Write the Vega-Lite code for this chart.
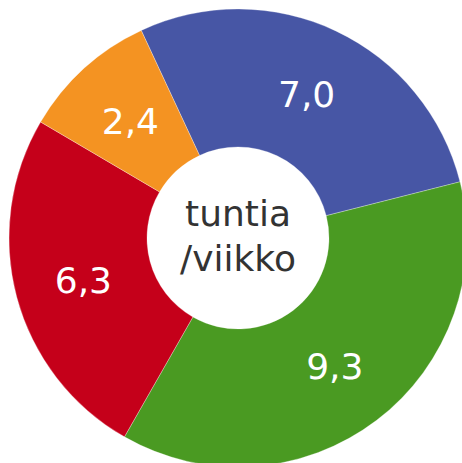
{
  "$schema": "https://vega.github.io/schema/vega-lite/v6.json",
  "autosize": {"type": "none"},
  "width": 448,
  "height": 450,
  "padding": {"left": 14, "top": 13, "right": 0, "bottom": 0},
  "background": "white",
  "config": {"view": {"stroke": null}},
  "layer": [
    {
      "data": {"values": [
        {"category": "sininen", "value": 7.0, "label": "7,0", "order": 1},
        {"category": "vihreä", "value": 9.3, "label": "9,3", "order": 2},
        {"category": "punainen", "value": 6.3, "label": "6,3", "order": 3},
        {"category": "oranssi", "value": 2.4, "label": "2,4", "order": 4}
      ]},
      "encoding": {
        "theta": {"field": "value", "type": "quantitative", "stack": true, "scale": {"range": [-0.4363, 5.8469]}},
        "order": {"field": "order", "type": "quantitative"},
        "color": {"field": "category", "type": "nominal", "legend": null,
          "scale": {"domain": ["sininen", "vihreä", "punainen", "oranssi"], "range": ["#4756a5", "#4a9a22", "#c5001a", "#f49322"]}}
      },
      "layer": [
        {"mark": {"type": "arc", "innerRadius": 91, "outerRadius": 229, "stroke": "white", "strokeWidth": 0.3}},
        {"mark": {"type": "text", "radius": 160, "fontSize": 36, "font": "DejaVu Sans", "fill": "white", "align": "center", "baseline": "middle", "dy": 3},
          "encoding": {"text": {"field": "label", "type": "nominal"}, "color": {"value": "white"}}}
      ]
    },
    {
      "data": {"values": [{"t": "tuntia"}]},
      "mark": {"type": "text", "text": ["tuntia", "/viikko"], "fontSize": 36, "font": "DejaVu Sans", "lineHeight": 45, "fill": "#333333", "align": "center", "baseline": "middle", "dy": -23},
      "encoding": {}
    }
  ]
}
